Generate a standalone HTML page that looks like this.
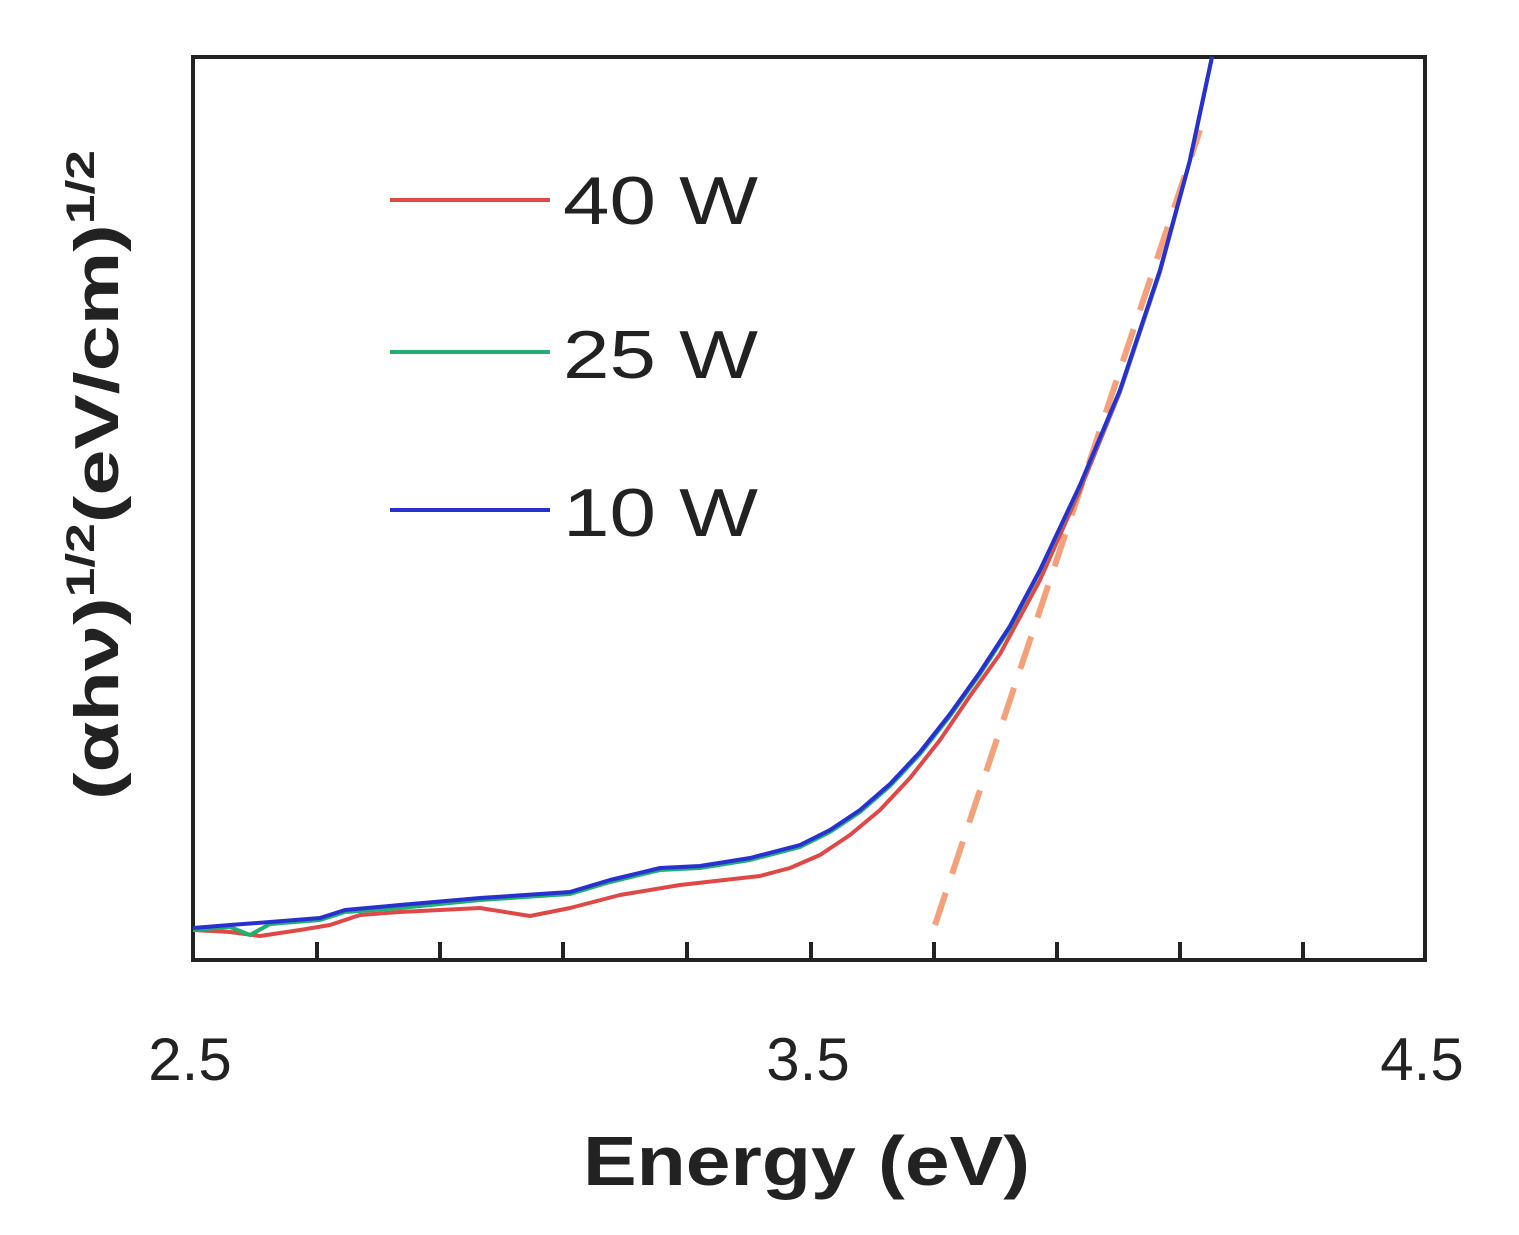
<!DOCTYPE html>
<html><head><style>body{margin:0;background:#fff}</style></head><body>
<svg width="1519" height="1230" xmlns="http://www.w3.org/2000/svg" font-family="Liberation Sans, sans-serif">
<rect x="193" y="57" width="1232" height="903" fill="none" stroke="#222" stroke-width="4"/>
<g stroke="#222" stroke-width="4">
<line x1="317" y1="960" x2="317" y2="942"/><line x1="440" y1="960" x2="440" y2="942"/><line x1="563" y1="960" x2="563" y2="942"/><line x1="687" y1="960" x2="687" y2="942"/><line x1="811" y1="960" x2="811" y2="942"/><line x1="934" y1="960" x2="934" y2="942"/><line x1="1057" y1="960" x2="1057" y2="942"/><line x1="1180" y1="960" x2="1180" y2="942"/><line x1="1303" y1="960" x2="1303" y2="942"/>
</g>
<line x1="935" y1="925" x2="1200" y2="130" stroke="#f4a07a" stroke-width="6" stroke-dasharray="34,20"/>
<polyline fill="none" stroke="#e04848" stroke-width="4" stroke-linejoin="round" points="193,930 230,932 260,936 300,930 330,925 360,915 400,912 480,908 530,916 570,908 620,895 680,885 760,876 790,868 820,855 850,835 880,810 910,778 940,740 970,696 1000,654 1040,580 1080,490 1120,392 1160,272 1190,160 1212,57"/>
<polyline fill="none" stroke="#20b070" stroke-width="4" stroke-linejoin="round" points="193,930 230,927 250,935 270,924 320,920 345,912 400,908 480,900 570,894 610,882 660,870 700,868 750,860 800,847 830,832 860,812 890,786 920,754 950,716 980,674 1010,628 1040,571 1080,486 1120,391 1160,271 1190,160 1212,57"/>
<polyline fill="none" stroke="#2830d0" stroke-width="4" stroke-linejoin="round" points="193,928 230,925 270,922 320,918 345,910 400,905 480,898 570,892 610,880 660,868 700,866 750,858 800,845 830,830 860,810 890,784 920,752 950,714 980,672 1010,626 1040,570 1080,485 1120,390 1160,270 1190,160 1212,57"/>
<line x1="390" y1="200" x2="550" y2="200" stroke="#e04848" stroke-width="4"/>
<line x1="390" y1="352" x2="550" y2="352" stroke="#20b070" stroke-width="4"/>
<line x1="390" y1="510" x2="550" y2="510" stroke="#2830d0" stroke-width="4"/>
<g font-size="68" fill="#222">
<text x="563" y="224" textLength="195" lengthAdjust="spacingAndGlyphs">40 W</text><text x="563" y="378" textLength="195" lengthAdjust="spacingAndGlyphs">25 W</text><text x="563" y="536" textLength="195" lengthAdjust="spacingAndGlyphs">10 W</text>
</g>
<g font-size="60" fill="#222" text-anchor="middle">
<text x="190" y="1080">2.5</text><text x="808" y="1080">3.5</text><text x="1422" y="1080">4.5</text>
</g>
<text x="583" y="1185" font-size="70" font-weight="bold" fill="#222" textLength="447" lengthAdjust="spacingAndGlyphs">Energy (eV)</text>
<text transform="translate(118,800) rotate(-90)" font-size="62" font-weight="bold" fill="#222" textLength="650" lengthAdjust="spacingAndGlyphs">(αhν)<tspan font-size="40" dy="-24">1/2</tspan><tspan dy="24">(eV/cm)</tspan><tspan font-size="40" dy="-24">1/2</tspan></text>
</svg>
</body></html>
